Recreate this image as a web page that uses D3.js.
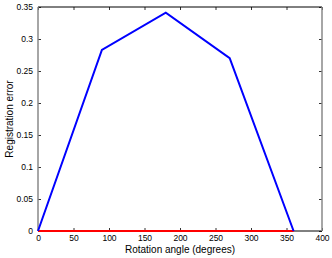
<!DOCTYPE html>
<html>
<head>
<meta charset="utf-8">
<script src="https://cdn.jsdelivr.net/npm/d3@7"></script>
<style>
  body { margin: 0; background: #fff; }
  text { font-family: "Liberation Sans", Arial, sans-serif; }
</style>
</head>
<body>
<div id="chart"></div>
<script>
const angles = [0, 90, 180, 270, 360];
const blueErrors = [0, 0.283, 0.341, 0.270, 0];
const redAngles = [0, 360];
const redErrors = [0, 0];
const xTicks = [0, 50, 100, 150, 200, 250, 300, 350, 400];
const yTicks = [0, 0.05, 0.1, 0.15, 0.2, 0.25, 0.3, 0.35];

const width = 332, height = 258;
const margin = { left: 38, right: 10, top: 7, bottom: 27 };

const svg = d3.select("#chart").append("svg")
    .attr("width", width)
    .attr("height", height);

const x = d3.scaleLinear().domain([0, 400]).range([margin.left, width - margin.right]);
const y = d3.scaleLinear().domain([0, 0.35]).range([height - margin.bottom, margin.top]);

const fontSize = 8.5;

// axes with inward ticks
svg.append("g")
    .attr("transform", `translate(0,${y(0)})`)
    .call(d3.axisBottom(x).tickValues(xTicks).tickSize(-3).tickPadding(4).tickFormat(d3.format("d")))
    .call(g => g.select(".domain").remove());

svg.append("g")
    .attr("transform", `translate(0,${y(0.35)})`)
    .call(d3.axisTop(x).tickValues(xTicks).tickSize(-3).tickFormat(""))
    .call(g => g.select(".domain").remove());

svg.append("g")
    .attr("transform", `translate(${x(0)},0)`)
    .call(d3.axisLeft(y).tickValues(yTicks).tickSize(-3).tickPadding(5).tickFormat(d => d === 0 ? "0" : String(+d.toFixed(2))))
    .call(g => g.select(".domain").remove());

svg.append("g")
    .attr("transform", `translate(${x(400)},0)`)
    .call(d3.axisRight(y).tickValues(yTicks).tickSize(-3).tickFormat(""))
    .call(g => g.select(".domain").remove());

svg.selectAll(".tick text")
    .attr("font-size", fontSize)
    .attr("font-family", "Liberation Sans, Arial, sans-serif")
    .attr("fill", "#000");
svg.selectAll(".tick line").attr("stroke", "#333");

// frame
svg.append("line")
    .attr("x1", x(0)).attr("x2", x(400)).attr("y1", y(0.35)).attr("y2", y(0.35))
    .attr("stroke", "#000").attr("stroke-width", 1);
svg.append("line")
    .attr("x1", x(0)).attr("x2", x(400)).attr("y1", y(0)).attr("y2", y(0))
    .attr("stroke", "#000").attr("stroke-width", 1);
svg.append("line")
    .attr("x1", x(0)).attr("x2", x(0)).attr("y1", y(0)).attr("y2", y(0.35))
    .attr("stroke", "#888").attr("stroke-width", 1.5);
svg.append("line")
    .attr("x1", x(400)).attr("x2", x(400)).attr("y1", y(0)).attr("y2", y(0.35))
    .attr("stroke", "#888").attr("stroke-width", 1.5);

const line = d3.line().x(d => x(d[0])).y(d => y(d[1]));

svg.append("path")
    .datum(redAngles.map((a, i) => [a, redErrors[i]]))
    .attr("d", line)
    .attr("fill", "none")
    .attr("stroke", "#ff0000")
    .attr("stroke-width", 2);

svg.append("path")
    .datum(angles.map((a, i) => [a, blueErrors[i]]))
    .attr("d", line)
    .attr("fill", "none")
    .attr("stroke", "#0000ff")
    .attr("stroke-width", 2)
    .attr("stroke-linejoin", "miter");

// labels
svg.append("text")
    .attr("x", (x(0) + x(400)) / 2)
    .attr("y", 253)
    .attr("text-anchor", "middle")
    .attr("font-size", 10)
    .text("Rotation angle (degrees)");

svg.append("text")
    .attr("transform", `translate(13,${(y(0) + y(0.35)) / 2}) rotate(-90)`)
    .attr("text-anchor", "middle")
    .attr("font-size", 10)
    .text("Registration error");
</script>
</body>
</html>
